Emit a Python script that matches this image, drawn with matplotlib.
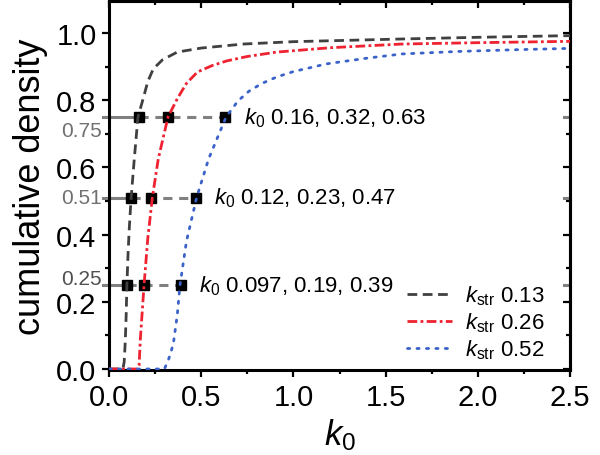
import numpy as np
import matplotlib
matplotlib.use('Agg')
import matplotlib.pyplot as plt
from matplotlib.ticker import MultipleLocator

plt.rcParams['font.family'] = ['Liberation Sans', 'DejaVu Sans']
plt.rcParams['mathtext.fontset'] = 'custom'
plt.rcParams['mathtext.rm'] = 'Liberation Sans'
plt.rcParams['mathtext.it'] = 'Liberation Sans:italic'

# Curvas de densidade acumulada
k0_013 = [0, 0.075, 0.082, 0.088, 0.093, 0.097, 0.103, 0.11, 0.12, 0.137, 0.157, 0.185, 0.21, 0.24,
          0.29, 0.37, 0.5, 0.73, 1.0, 1.59, 2.0, 2.5]
cd_013 = [0, 0, 0.02, 0.08, 0.16, 0.25, 0.34, 0.42, 0.51, 0.625, 0.75, 0.804, 0.855, 0.893,
          0.92, 0.943, 0.955, 0.967, 0.974, 0.982, 0.987, 0.992]

k0_026 = [0, 0.155, 0.163, 0.17, 0.18, 0.19, 0.21, 0.235, 0.267, 0.32, 0.37, 0.42, 0.48, 0.56,
          0.64, 0.75, 0.91, 1.2, 1.59, 2.0, 2.5]
cd_026 = [0, 0, 0.01, 0.09, 0.17, 0.25, 0.387, 0.51, 0.625, 0.75, 0.804, 0.85, 0.884, 0.903,
          0.917, 0.93, 0.943, 0.956, 0.967, 0.971, 0.975]

k0_052 = [0, 0.30, 0.32, 0.336, 0.35, 0.37, 0.385, 0.42, 0.475, 0.54, 0.635, 0.70, 0.76, 0.83,
          0.91, 1.0, 1.18, 1.4, 1.59, 1.9, 2.2, 2.5]
cd_052 = [0, 0, 0.024, 0.05, 0.08, 0.16, 0.25, 0.38, 0.51, 0.625, 0.75, 0.798, 0.827, 0.85,
          0.869, 0.885, 0.908, 0.925, 0.9375, 0.945, 0.95, 0.954]

kstr = [0.13, 0.26, 0.52]

# Níveis marcados e valores de k0 correspondentes
niveis = [0.25, 0.51, 0.75]
k0_niveis = [[0.097, 0.19, 0.39],
             [0.12, 0.23, 0.47],
             [0.16, 0.32, 0.63]]
rotulos_k0 = ['0.097, 0.19, 0.39', '0.12, 0.23, 0.47', '0.16, 0.32, 0.63']
rotulos_niveis = ['0.25', '0.51', '0.75']
pos_rotulos = [0.268, 0.51, 0.71]

cinza = '#808080'

fig = plt.figure(figsize=(6, 4.56), dpi=100)
ax = fig.add_axes([0.1817, 0.1864, 0.7683, 0.8092])

ax.plot(k0_013, cd_013, color='#404040', lw=2.0, linestyle=(0, (3.5, 2)),
        label=r'$k_{\mathrm{str}}$ ' + str(kstr[0]), zorder=4)
ax.plot(k0_026, cd_026, color='#ee2230', lw=2.0, linestyle=(0, (3.5, 1.2, 1, 1.2)),
        label=r'$k_{\mathrm{str}}$ ' + str(kstr[1]), zorder=4)
ax.plot(k0_052, cd_052, color='#3a62c8', lw=2.0, linestyle=(0, (0.8, 2.6)),
        dash_capstyle='round', label=r'$k_{\mathrm{str}}$ ' + str(kstr[2]), zorder=4)

# Linhas horizontais cinzas até os marcadores
for nivel, ks in zip(niveis, k0_niveis):
    ax.plot([-0.033, ks[0]], [nivel, nivel], color=cinza, lw=2.2, clip_on=False, zorder=2)
    ax.plot([ks[0], ks[-1]], [nivel, nivel], color=cinza, lw=2.2, linestyle=(0, (3, 2.2)), zorder=2)
    ax.plot(ks, [nivel] * len(ks), 's', color='black', ms=7, zorder=3)
    ax.plot([2.47, 2.5], [nivel, nivel], color=cinza, lw=2.2, zorder=2)

for nivel, ks, rot in zip(niveis, k0_niveis, rotulos_k0):
    ax.text(ks[-1] + 0.1, nivel, r'$k_0$ ' + rot, fontsize=16, va='center', ha='left')

# Rótulos cinzas à esquerda
cores_rot = ['#505050', '#707070', '#707070']
for txt, y, c in zip(rotulos_niveis, pos_rotulos, cores_rot):
    ax.text(-0.04, y, txt, color=c, fontsize=15, ha='right', va='center', clip_on=False)

ax.set_xlim(0, 2.5)
ax.set_ylim(-0.003, 1.095)
ax.xaxis.set_major_locator(MultipleLocator(0.5))
ax.xaxis.set_minor_locator(MultipleLocator(0.25))
ax.yaxis.set_major_locator(MultipleLocator(0.2))
ax.yaxis.set_minor_locator(MultipleLocator(0.1))
ax.xaxis.set_major_formatter(plt.FuncFormatter(lambda v, p: f'{v:.1f}'))
ax.yaxis.set_major_formatter(plt.FuncFormatter(lambda v, p: f'{v:.1f}'))

for s in ax.spines.values():
    s.set_linewidth(2.2)
ax.tick_params(which='major', direction='out', length=5, width=1.6, labelsize=21, pad=4)
ax.tick_params(which='minor', direction='out', length=3, width=1.6)

top = ax.secondary_xaxis('top')
top.xaxis.set_major_locator(MultipleLocator(0.5))
top.xaxis.set_minor_locator(MultipleLocator(0.25))
top.tick_params(which='major', direction='in', length=5, width=1.6, labeltop=False)
top.tick_params(which='minor', direction='in', length=3, width=1.6)
top.spines['top'].set_linewidth(2.2)
right = ax.secondary_yaxis('right')
right.yaxis.set_major_locator(MultipleLocator(0.2))
right.yaxis.set_minor_locator(MultipleLocator(0.1))
right.tick_params(which='major', direction='in', length=5, width=1.6, labelright=False)
right.tick_params(which='minor', direction='in', length=3, width=1.6)
right.spines['right'].set_linewidth(2.2)

ax.set_xlabel(r'$k_0$', fontsize=25, labelpad=4)
ax.set_ylabel('cumulative density', fontsize=26, labelpad=6)

ax.legend(loc='lower right', bbox_to_anchor=(0.964, 0.0), frameon=False, fontsize=16,
          handlelength=2.0, handletextpad=0.6, labelspacing=0.15, borderaxespad=0)

fig.savefig('out.png', dpi=100)
